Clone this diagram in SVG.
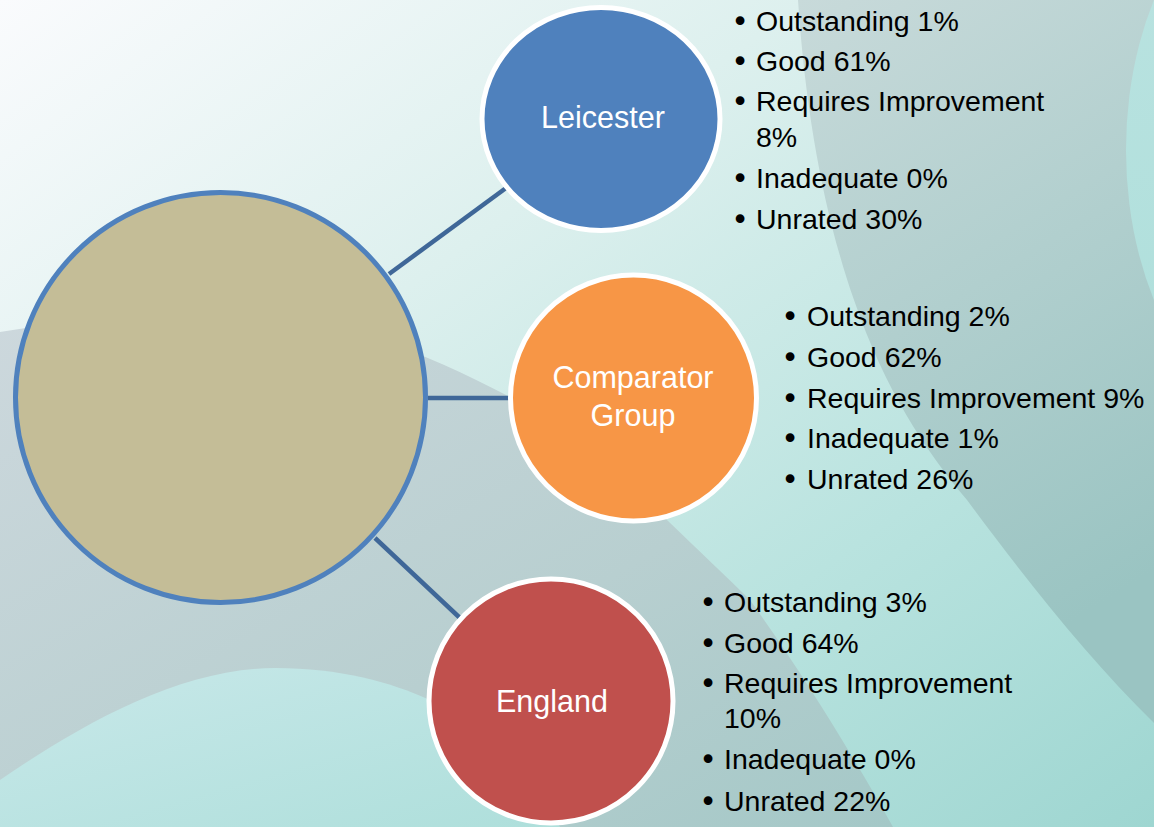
<svg xmlns="http://www.w3.org/2000/svg" width="1154" height="827" viewBox="0 0 1154 827">
<defs>
<linearGradient id="gBase" x1="0" y1="0" x2="1" y2="1">
<stop offset="0" stop-color="#FAFBFD"/>
<stop offset="0.35" stop-color="#DDF0EE"/>
<stop offset="0.7" stop-color="#B9E3DF"/>
<stop offset="1" stop-color="#9ED6D1"/>
</linearGradient>
<linearGradient id="gRight" x1="0" y1="0" x2="0.3" y2="1">
<stop offset="0" stop-color="#C8DADA"/>
<stop offset="1" stop-color="#9AC4C2"/>
</linearGradient>
<linearGradient id="gBand" x1="0" y1="0" x2="1" y2="1">
<stop offset="0" stop-color="#CDD8DD"/>
<stop offset="0.6" stop-color="#B8CFD0"/>
<stop offset="1" stop-color="#A4C8C7"/>
</linearGradient>
<linearGradient id="gWave" x1="0" y1="0" x2="1" y2="1">
<stop offset="0" stop-color="#C8E8E9"/>
<stop offset="1" stop-color="#AEDFDB"/>
</linearGradient>
<linearGradient id="gLight" x1="0" y1="0" x2="0" y2="1">
<stop offset="0" stop-color="#BBE3E1"/>
<stop offset="1" stop-color="#AEDFDB"/>
</linearGradient>
<style>
.link{stroke:#3F6798;stroke-width:4.5;fill:none}
.node{stroke:#FFFFFF;stroke-width:5}
.label{font-family:"Liberation Sans",Arial,sans-serif;font-size:30.5px;fill:#FFFFFF;text-anchor:middle}
.item{font-family:"Liberation Sans",Arial,sans-serif;font-size:28.5px;fill:#000000}
.bul{font-family:"DejaVu Sans",sans-serif;font-size:30px;fill:#000000;text-anchor:middle}
</style>
</defs>
<g id="background">
<rect x="0" y="0" width="1154" height="827" fill="url(#gBase)"/>
<path d="M798,0 C806,120 826,220 854,300 C885,390 925,450 967,500 C1030,585 1090,660 1154,723 L1154,0 Z" fill="url(#gRight)"/>
<ellipse cx="1300" cy="150" rx="174" ry="276" fill="url(#gLight)"/>
<path d="M0,332 C90,318 180,306 250,310 C330,316 420,350 510,397 C580,436 630,480 667,520 C700,552 725,575 750,600 C800,670 850,750 893,827 L0,827 Z" fill="url(#gBand)"/>
<path d="M0,780 C80,725 180,668 275,668 C340,668 390,682 430,700 C500,735 540,790 560,827 L0,827 Z" fill="url(#gWave)"/>
</g>
<g id="connectors">
<line class="link" x1="389" y1="274" x2="506" y2="188"/>
<line class="link" x1="428" y1="398" x2="511" y2="398"/>
<line class="link" x1="375" y1="538" x2="460" y2="618"/>
</g>
<g id="center">
<circle cx="220.5" cy="397.5" r="205" fill="#C4BD97" stroke="#4F81BD" stroke-width="5"/>
</g>
<g id="leicester">
<ellipse class="node" cx="601" cy="119" rx="119" ry="111.5" fill="#4F81BD"/>
<text class="label" x="603" y="128">Leicester</text>
</g>
<g id="comparator">
<circle class="node" cx="633.5" cy="398" r="123" fill="#F79646"/>
<text class="label" x="633" y="388">Comparator</text>
<text class="label" x="633" y="426">Group</text>
</g>
<g id="england">
<circle class="node" cx="551" cy="701" r="122" fill="#C0504D"/>
<text class="label" x="552" y="712">England</text>
</g>
<g id="leicester-list">
<text class="bul" x="740" y="31.5">•</text><text class="item" x="756" y="30.5">Outstanding 1%</text>
<text class="bul" x="740" y="71.5">•</text><text class="item" x="756" y="70.5">Good 61%</text>
<text class="bul" x="740" y="112">•</text><text class="item" x="756" y="111">Requires Improvement</text>
<text class="item" x="756" y="147">8%</text>
<text class="bul" x="740" y="189">•</text><text class="item" x="756" y="188">Inadequate 0%</text>
<text class="bul" x="740" y="230">•</text><text class="item" x="756" y="229">Unrated 30%</text>
</g>
<g id="comparator-list">
<text class="bul" x="790" y="327">•</text><text class="item" x="807" y="326">Outstanding 2%</text>
<text class="bul" x="790" y="368">•</text><text class="item" x="807" y="367">Good 62%</text>
<text class="bul" x="790" y="408.5">•</text><text class="item" x="807" y="407.5">Requires Improvement 9%</text>
<text class="bul" x="790" y="449">•</text><text class="item" x="807" y="448">Inadequate 1%</text>
<text class="bul" x="790" y="490">•</text><text class="item" x="807" y="489">Unrated 26%</text>
</g>
<g id="england-list">
<text class="bul" x="708" y="612.5">•</text><text class="item" x="724" y="611.5">Outstanding 3%</text>
<text class="bul" x="708" y="653.5">•</text><text class="item" x="724" y="652.5">Good 64%</text>
<text class="bul" x="708" y="694">•</text><text class="item" x="724" y="693">Requires Improvement</text>
<text class="item" x="724" y="728">10%</text>
<text class="bul" x="708" y="770">•</text><text class="item" x="724" y="769">Inadequate 0%</text>
<text class="bul" x="708" y="812">•</text><text class="item" x="724" y="811">Unrated 22%</text>
</g>
</svg>
